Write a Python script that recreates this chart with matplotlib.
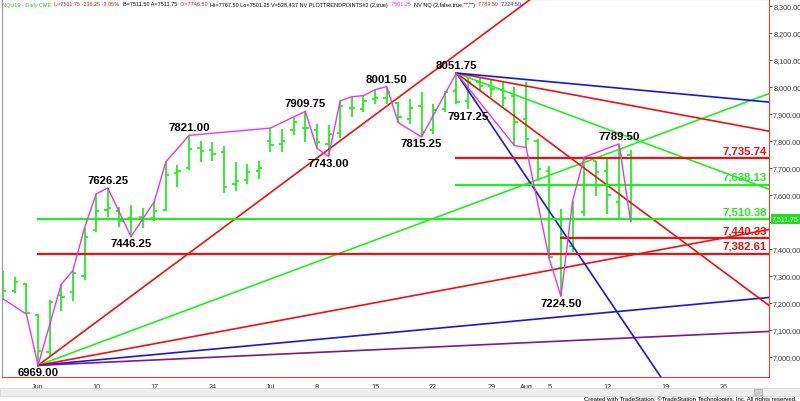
import matplotlib.pyplot as plt
from matplotlib.patches import Rectangle

plt.rcParams['font.family'] = ['Liberation Sans', 'DejaVu Sans']

# daily bars of NQU19, bar index 0 = Jun 3 2019, 51 = Aug 14 2019
bar_idx = list(range(-3, 52))
opens = [7300, 7245, 7270, 7155, 7018, 7230, 7239, 7300, 7470, 7545,
         7540, 7515, 7520, 7515, 7545, 7680, 7700, 7775, 7765, 7760,
         7640, 7655, 7690, 7800, 7790, 7841, 7850, 7840, 7790, 7830,
         7921, 7918, 7955, 7960, 7940, 7880, 7930, 7840, 7920, 7985,
         7950, 8020, 8005, 7990, 7968, 7880, 7800, 7690, 7330, 7412,
         7536, 7725, 7690, 7573, 7746.5]
highs = [7320, 7297, 7273, 7159, 7212, 7270, 7320, 7478, 7604, 7626.25,
         7554, 7563, 7551, 7575, 7723, 7711, 7821, 7801, 7795, 7780,
         7721, 7715, 7727, 7848, 7844, 7890, 7909.75, 7863, 7859, 7949,
         7964, 7968, 7990, 8001.5, 7943, 7955, 7983, 7937, 7986, 8051.75,
         8036, 8036, 8030, 8023, 7999, 8017, 7807, 7709, 7548, 7579,
         7740, 7727, 7733, 7789.5, 7767.5]
lows = [7215, 7236, 7159, 6969, 6999, 7172, 7209, 7286, 7462, 7517,
        7480, 7446.25, 7476, 7505, 7542, 7628, 7694, 7723, 7727, 7607,
        7616, 7641, 7659, 7758, 7760, 7822, 7795, 7773, 7743, 7810,
        7888, 7906, 7937, 7937, 7868, 7863, 7815.25, 7826, 7909, 7937,
        7917.25, 7986, 7962, 7931, 7783, 7776, 7653, 7363, 7224.5, 7388,
        7524, 7598, 7530, 7514, 7501.25]
closes = [7243, 7279, 7162, 7021, 7205, 7221, 7310, 7443, 7542, 7551,
          7505, 7511, 7511, 7542, 7674, 7690, 7770, 7764, 7752, 7628,
          7653, 7686, 7700, 7785, 7801, 7870, 7850, 7797, 7826, 7928,
          7921, 7950, 7960, 7983, 7888, 7921, 7832, 7916, 7980, 7943,
          8020, 8005, 7993, 7960, 7869, 7807, 7696, 7370, 7443, 7511,
          7733, 7684, 7600, 7748, 7511.75]

# swing line points (bar index, price)
swing_idx = [-3, -1, 0, 2, 3, 4, 5, 6, 8, 10, 11, 13, 20, 23, 24, 25, 26, 27, 28,
             29, 30, 31, 33, 36, 41, 42, 44, 45, 46, 47, 50, 51]
swing_px = [7215, 7159, 6969, 7270, 7320, 7478, 7604, 7626.25, 7446.25, 7575, 7723,
            7821, 7848, 7909.75, 7773, 7743, 7949, 7964, 7968, 7990, 8001.5, 7868,
            7815.25, 8051.75, 7783, 7776, 7363, 7224.5, 7579, 7740, 7789.5, 7501.25]

# labelled swing points: index, price, above(1)/below(-1)
label_idx = [0, 6, 8, 13, 23, 25, 30, 33, 36, 37, 45, 50]
label_px = [6969.00, 7626.25, 7446.25, 7821.00, 7909.75, 7743.00, 8001.50,
            7815.25, 8051.75, 7917.25, 7224.50, 7789.50]
label_side = [-1, 1, -1, 1, 1, -1, 1, -1, 1, -1, -1, 1]

# gann fans
low_anchor = (0, 6969.00)
low_slopes = [32, 16, 8, 4, 2]
low_colors = ['#f01010', '#22ee22', '#f01010', '#1818d8', '#7a1a8a']
high_anchor = (36, 8051.75)
high_slopes = [-64, -32, -16, -8, -4]
high_colors = ['#1818d8', '#f01010', '#22ee22', '#f01010', '#1818d8']

# horizontal levels: value, start bar, colour
level_vals = [7735.74, 7638.13, 7510.38, 7440.33, 7382.61]
level_start = [36, 36, 0, 45, 0]
level_colors = ['#f01010', '#22ee22', '#22ee22', '#f01010', '#f01010']

last_price = 7511.75
tick_pos = [0, 5, 10, 15, 20, 24, 29, 34, 39, 42, 44, 49, 54, 59]
tick_lab = ['Jun', '10', '17', '24', 'Jul', '8', '15', '22', '29', 'Aug', '5', '12', '19', '26']

fig = plt.figure(figsize=(8, 4.02), dpi=100)
ax = fig.add_axes([2 / 800, 24 / 402, 767 / 800, 378 / 402])
x0, x1 = -3.1, 62.9
ax.set_xlim(x0, x1)
ax.set_ylim(6926, 8326)

# ohlc bars
green = '#22ee22'
tw = 0.28
ax.vlines(bar_idx, lows, highs, color=green, lw=1.3, zorder=2)
ax.hlines(opens, [i - tw for i in bar_idx], bar_idx, color=green, lw=1.3, zorder=2)
ax.hlines(closes, bar_idx, [i + tw for i in bar_idx], color=green, lw=1.3, zorder=2)

# fan lines
for s, c in zip(low_slopes, low_colors):
    ax.plot([low_anchor[0], x1], [low_anchor[1], low_anchor[1] + s * (x1 - low_anchor[0])],
            color=c, lw=1.2, zorder=3)
for s, c in zip(high_slopes, high_colors):
    ax.plot([high_anchor[0], x1], [high_anchor[1], high_anchor[1] + s * (x1 - high_anchor[0])],
            color=c, lw=1.2, zorder=3)

# levels
for v, st, c in zip(level_vals, level_start, level_colors):
    ax.plot([st, x1], [v, v], color=c, lw=1.6, zorder=3)
    ax.annotate(f"{v:,.2f}", xy=(1, v), xycoords=('axes fraction', 'data'),
                xytext=(-2, 8), textcoords='offset pixels', ha='right', va='center',
                fontsize=8.2, fontweight='bold', color=c, zorder=5)

# swing line
ax.plot(swing_idx, swing_px, color='#ee33ee', lw=1.0, zorder=4)

for i, p, sd in zip(label_idx, label_px, label_side):
    ax.annotate(f"{p:.2f}", xy=(i, p), xytext=(0, 8 if sd > 0 else -6.5),
                textcoords='offset pixels', ha='center', va='center',
                fontsize=8.2, fontweight='bold', color='black', zorder=5)

# axes styling
yt = list(range(7000, 8301, 100))
ax.yaxis.tick_right()
ax.set_yticks(yt)
ax.set_yticklabels(["" if v == 7500 else f"{v:,.2f}" for v in yt])
ax.tick_params(axis='y', labelsize=5.2, colors='#333333', length=2, pad=1, width=0.6)
ax.set_xticks(tick_pos)
ax.set_xticklabels(tick_lab)
ax.tick_params(axis='x', labelsize=5.2, colors='#333333', length=0, pad=4)
for side in ['right', 'bottom']:
    ax.spines[side].set_color('#e04040')
    ax.spines[side].set_linewidth(0.8)
for side in ['left', 'top']:
    ax.spines[side].set_color('#999999')
    ax.spines[side].set_linewidth(0.8)

ax.annotate(f"{last_price:,.2f}", xy=(1, last_price), xycoords=('axes fraction', 'data'),
            xytext=(3, 0), textcoords='offset pixels', ha='left', va='center',
            fontsize=5, color='white',
            bbox=dict(boxstyle='square,pad=0.2', fc='#22dd22', ec='none'), zorder=6,
            annotation_clip=False)

# header
header = [("NQU19 - Daily CME", '#22cc22'),
          ("  L=7511.75 -236.25 -3.05%", '#e02020'),
          ("  B=7511.50 A=7511.75", 'black'),
          ("  O=7746.50", '#e02020'),
          ("  Hi=7767.50 Lo=7501.25 V=528,437 NV PLOTTRENDPOINTS#2 (2,true)", 'black'),
          ("  7501.25", '#ee22ee'),
          ("  NV NQ (2,false,true,\"\",\"\")", 'black'),
          ("  7789.50", '#e02020'),
          ("  7224.50", '#2222dd')]
prev = None
for txt, c in header:
    if prev is None:
        prev = fig.text(2 / 800, 1 - 5 / 402, txt, color=c, fontsize=4.0, va='center', ha='left')
    else:
        prev = ax.annotate(txt, xy=(1, 0), xycoords=prev, va='bottom', ha='left',
                           color=c, fontsize=4.0, annotation_clip=False)

# scrollbar and footer
fig.patches.append(Rectangle((0, 5 / 402), 1, 8 / 402, transform=fig.transFigure,
                             fc='#eeeeee', ec='#d0d0d0', lw=0.5))
fig.patches.append(Rectangle((754 / 800, 6 / 402), 8 / 800, 6 / 402, transform=fig.transFigure,
                             fc='#cfcfcf', ec='#aaaaaa', lw=0.5))
fig.text(797 / 800, 2.5 / 402, "Created with TradeStation. \u00a9TradeStation Technologies, Inc. All rights reserved.",
         fontsize=4.3, ha='right', va='center', color='black')

fig.savefig("out.png", dpi=100)
